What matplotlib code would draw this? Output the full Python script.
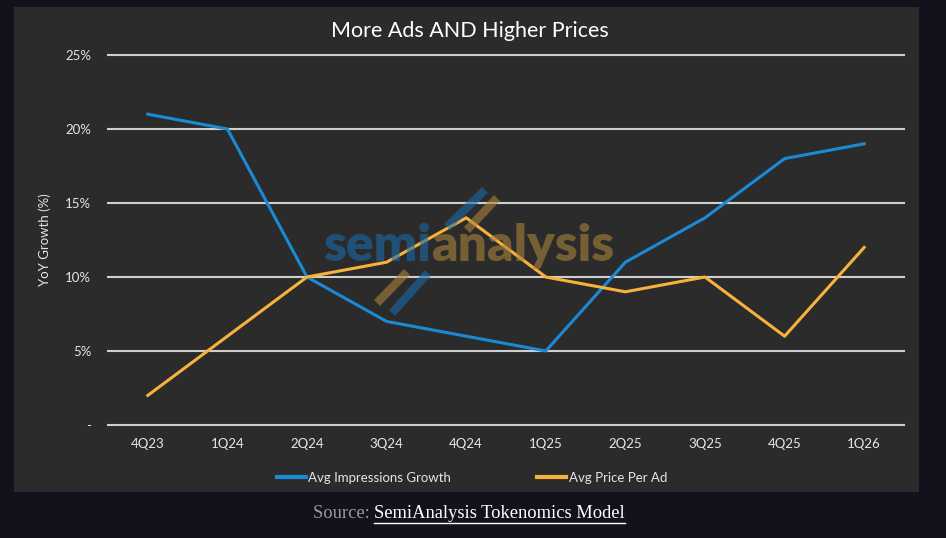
import matplotlib
matplotlib.use("Agg")
import matplotlib.pyplot as plt
from matplotlib.patches import Rectangle
from matplotlib.lines import Line2D

quarters = ["4Q23", "1Q24", "2Q24", "3Q24", "4Q24", "1Q25", "2Q25", "3Q25", "4Q25", "1Q26"]
impressions = [21, 20, 10, 7, 6, 5, 11, 14, 18, 19]
price_per_ad = [2, 6, 10, 11, 14, 10, 9, 10, 6, 12]
yticks = [0, 5, 10, 15, 20, 25]
ytick_labels = ["-", "5%", "10%", "15%", "20%", "25%"]

W, H = 946, 538
fig = plt.figure(figsize=(W / 100, H / 100), dpi=100)
fig.patch.set_facecolor("#13111c")

# panel
fig.patches.append(Rectangle((14 / W, 1 - 492 / H), (919 - 14) / W, (492 - 7) / H,
                             transform=fig.transFigure, facecolor="#2b2b2b",
                             edgecolor="none", zorder=-1))

ax = fig.add_axes([108 / W, 1 - 425 / H, (904 - 108) / W, (425 - 55) / H])
ax.set_zorder(1)
ax.set_facecolor("none")
x = list(range(len(quarters)))
ax.set_xlim(-0.5, len(quarters) - 0.5)
ax.set_ylim(0, 25)
for s in ax.spines.values():
    s.set_visible(False)
ax.set_yticks(yticks)
ax.set_yticklabels(ytick_labels)
ax.set_xticks(x)
ax.set_xticklabels(quarters)
ax.tick_params(length=0, colors="#e6e6e6", labelsize=9.5)
ax.tick_params(axis="y", pad=12)
ax.tick_params(axis="x", pad=9)
for lab in ax.get_xticklabels() + ax.get_yticklabels():
    lab.set_fontfamily("Lato")
for yv in yticks:
    ax.axhline(yv, color="#cfcfcf", lw=1.5, zorder=1, clip_on=False)

ax.plot(x, impressions, color="#1a8ad6", lw=2.2, zorder=3, label="Avg Impressions Growth")
ax.plot(x, price_per_ad, color="#f7b23b", lw=2.2, zorder=3, label="Avg Price Per Ad")

ax.set_ylabel("YoY Growth (%)", color="#e6e6e6", fontsize=9.5, fontfamily="Lato", labelpad=10)

fig.text(470 / W, 1 - 31 / H, "More Ads AND Higher Prices", ha="center", va="center",
         color="white", fontsize=15.5, fontfamily="Lato")

leg = fig.legend(loc="center", bbox_to_anchor=(472 / W, 1 - 478 / H), ncol=2, frameon=False,
                 handlelength=2.2, handletextpad=0.2, columnspacing=6.5,
                 prop={"family": "Lato", "size": 9.5})
for t in leg.get_texts():
    t.set_color("#e6e6e6")
for h in leg.get_lines():
    h.set_linewidth(3)

# watermark
wm_alpha = 0.6
fig.text(431 / W, 1 - 246 / H, "semi", ha="right", va="center", color="#1a6aa8",
         fontsize=37, fontweight="heavy", fontfamily="Lato", alpha=wm_alpha, zorder=5)
fig.text(431 / W, 1 - 246 / H, "analysis", ha="left", va="center", color="#a8823a",
         fontsize=37, fontweight="heavy", fontfamily="Lato", alpha=wm_alpha, zorder=5)
bars = [((447, 227), (485, 190), "#1a6aa8"),
        ((467, 230), (497, 198), "#a8823a"),
        ((377, 303), (407, 272), "#a8823a"),
        ((392, 313), (428, 273), "#1a6aa8")]
for (x0, y0), (x1, y1), c in bars:
    fig.lines.append(Line2D([x0 / W, x1 / W], [1 - y0 / H, 1 - y1 / H], transform=fig.transFigure,
                            color=c, lw=6, alpha=wm_alpha, solid_capstyle="butt", zorder=5))

# source line
renderer = fig.canvas.get_renderer()
t1 = fig.text(0, 1 - 514 / H, "Source: ", ha="left", va="center", color="#9a9a9a",
              fontsize=13.3, fontfamily="Liberation Serif")
t2 = fig.text(0, 1 - 514 / H, "SemiAnalysis Tokenomics Model", ha="left", va="center",
              color="white", fontsize=13.3, fontfamily="Liberation Serif")
w1 = t1.get_window_extent(renderer).width
w2 = t2.get_window_extent(renderer).width
start = 469 - (w1 + w2) / 2
t1.set_x(start / W)
t2.set_x((start + w1) / W)
fig.lines.append(Line2D([(start + w1) / W, (start + w1 + w2) / W], [1 - 523 / H, 1 - 523 / H],
                        transform=fig.transFigure, color="white", lw=1))

fig.savefig("out.png", dpi=100, facecolor=fig.get_facecolor())
